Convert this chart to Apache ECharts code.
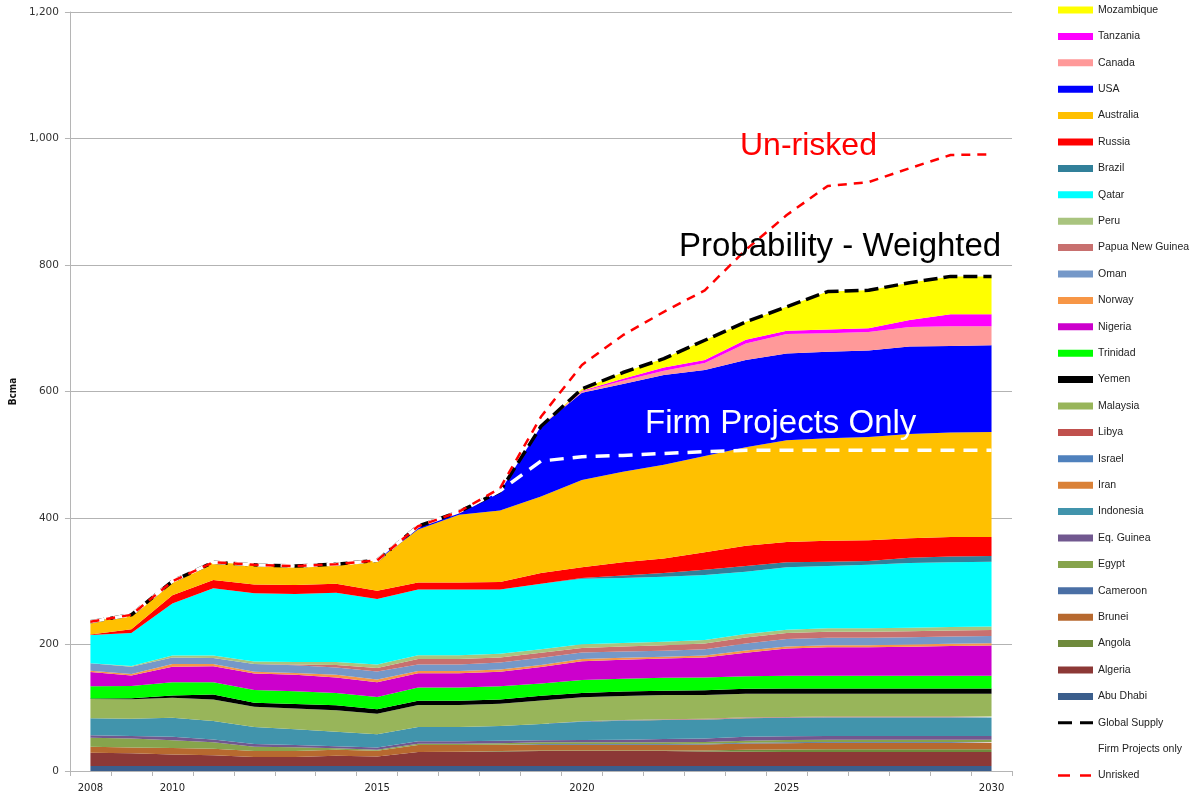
<!DOCTYPE html>
<html>
<head>
<meta charset="utf-8">
<title>LNG supply outlook</title>
<script src="https://cdn.jsdelivr.net/npm/echarts@6/dist/echarts.min.js"></script>
<style>
  html, body { margin: 0; padding: 0; background: #ffffff; }
  #chart { width: 1194px; height: 797px; }
</style>
</head>
<body>
<div id="chart"></div>
<script>
// Years on the category axis
const years = ['2008','2009','2010','2011','2012','2013','2014','2015','2016','2017','2018','2019',
               '2020','2021','2022','2023','2024','2025','2026','2027','2028','2029','2030'];

// Supply by country, Bcma (stacked bottom to top)
const abuDhabi   = [8,8,8,8,8,8,8,8,8,8,8,8,8,8,8,8,8,8,8,8,8,8,8];
const algeria    = [21,20,18,17,14,14,16,15,22,22,23,23.5,23.5,23.5,23.5,23,22.5,22,22,22,22,22,22];
const angola     = [0,0,0,0,0,0,0,0,0,0.5,0.5,1,1,1,1,1.5,3,4,4.5,4.5,4.5,4.5,4.5];
const brunei     = [9.5,9,10.5,10,9.5,9.5,9.5,9,11,10.5,10,9,9,9,9,9.5,10,10,10,10,10,10,10];
const cameroon   = [0,0,0,0,0,0,0,0,0,0,0,1,1,1,1,1,1,1.5,1.5,1.5,1.5,1.5,1.5];
const egypt      = [14,14.5,12,10.5,7,6,2.5,1.5,2,2,2.5,3,3,3,3,3,3.5,3.5,3.5,3.5,3.5,3.5,3.5];
const eqGuinea   = [4,4,5.5,4.5,4,3.5,3,3.5,4,4,4,3,3.5,4,5,5.5,6,6,6,6,6,6,6];
const indonesia  = [27,27,30,29,27,25,23,21,22.5,22.5,23,26,29,30,30,29.5,29.5,29,29,29,29,29,29];
const iran       = [0,0,0,0,0,0,0,0,0,0,0,0,0,0.5,0.5,0.5,0.5,0.5,0.5,0.5,0.5,0.5,0.5];
const israel     = [0,0,0,0,0,0,0,0,0,0,0,0,0.5,0.5,0.5,0.5,0.5,0.5,0.5,0.5,0.5,0.5,0.5];
const libya      = [0,0,0,0,0,0,0,0,0,0,0,0,0,0,0.5,0.5,0.5,0.5,0.5,0.5,0.5,0.5,0.5];
const malaysia   = [30.5,31,32,34,32,33,34,32.5,35,35,35.5,37,38,38,38,37.5,37,36.5,36,36,36,36,36];
const yemen      = [0.5,1.5,3.5,8,6.5,7,8,7,6.5,6.5,6.5,7.5,7,7,7,7.5,8,8.5,8.5,8.5,8.5,8.5,8.5];
const trinidad   = [19.5,19.5,21,19.5,20,20,19.5,19.5,21,21,21,19.5,20.5,20.5,20.5,20.5,20,20,20,20,20,20,20];
const nigeria    = [22.5,16.5,24.5,25,26,26,24.5,23.5,22.5,22.5,23,26,29.5,30,30.5,31.5,37,43,45,45,46,47,48];
const norway     = [2,2.5,4,3.5,3,3,4,4,3.5,3.5,3.5,3,3.5,3,2.5,3,3.5,3.5,3.5,3.5,3.5,3.5,3.5];
const oman       = [12,11.5,10.5,9.5,12,12,11.5,13,10.5,10.5,11,11.5,10.5,10,9.5,10,11,11.5,11.5,11.5,11.5,11.5,11.5];
const papuaNG    = [0,0,0,0,0,1.5,4,5.5,8.5,8.5,8,8,7,8,9,9,9.5,9.5,9.5,9.5,9.5,9.5,9.5];
const peru       = [0,1,3,4,4,4,5,5.5,6,6,6,5.5,6,5.5,5.5,5.5,5.5,5.5,5.5,5.5,5.5,5.5,5.5];
const qatar      = [44.5,52,82.5,106.5,108,107.5,109.5,103.5,104,104,101.5,103.5,103.5,102.5,102.5,103,98.5,98.5,98.5,100.5,102.5,102.5,102.5];
const brazil     = [0,0,0,0,0,0,0,0,0,0,0,0,1,4,6,8,9,8,7,6,8,9,9];
const russia     = [1,6,13,13,14,14,14,13,11,11,12,17,17,21,23,28,32,32,33,33,31,31,30];
const australia  = [20,23,22,28,31,30,31,48,84,107,113,121,138,143,148,152,156,161,162,163,165,165,166];
const usa        = [0,0,0,0,0,0,0,0,5,5,30,111,138,139,142,136,138,137,137,137,138,137,137];
const canada     = [0,0,0,0,0,0,0,0,0,0,0,0,2,5,7,11,26,31,29,29,31,31,30];
const tanzania   = [0,0,0,0,0,0,0,0,0,0,0,0,1,3,5,5,6,5,6,6,11,19,19];
const mozambique = [0,0,0,0,0,0,0,0,0,0,0,0,3,10,14,31,28,38,60,60,59,60,60];

// Outlook lines, Bcma
const globalSupply = [236,247,300,330,326,324,327,333,387,410,442,545,604,630,652,681,710,734,758,760,772,782,782];
const firmProjects = [236,247,300,330,326,324,327,333,387,410,443,490,497,499,502,505,507,507,507,507,507,507,507];
const unrisked     = [236,247,300,330,326,324,327,333,387,410,447,560,642,689,726,760,824,879,925,931,953,974,975];

// Y-axis tick values
const yTicks = [0, 200, 400, 600, 800, 1000, 1200];
// Years that carry a label on the x axis
const labelledYears = ['2008', '2010', '2015', '2020', '2025', '2030'];

// Stack layers, bottom to top, with their fill colours
const layers = [
  ['Abu Dhabi', abuDhabi, '#3b5e8c'],
  ['Algeria', algeria, '#8c3836'],
  ['Angola', angola, '#6f8a3c'],
  ['Brunei', brunei, '#b7692f'],
  ['Cameroon', cameroon, '#4a6fa5'],
  ['Egypt', egypt, '#86a44c'],
  ['Eq. Guinea', eqGuinea, '#71588f'],
  ['Indonesia', indonesia, '#4194ac'],
  ['Iran', iran, '#da8137'],
  ['Israel', israel, '#4f81bd'],
  ['Libya', libya, '#c0504d'],
  ['Malaysia', malaysia, '#98b55a'],
  ['Yemen', yemen, '#000000'],
  ['Trinidad', trinidad, '#00ff00'],
  ['Nigeria', nigeria, '#cc00cc'],
  ['Norway', norway, '#f79646'],
  ['Oman', oman, '#7598c8'],
  ['Papua New Guinea', papuaNG, '#c8706f'],
  ['Peru', peru, '#a9c47f'],
  ['Qatar', qatar, '#00ffff'],
  ['Brazil', brazil, '#31809a'],
  ['Russia', russia, '#ff0000'],
  ['Australia', australia, '#ffc000'],
  ['USA', usa, '#0000ff'],
  ['Canada', canada, '#ff9999'],
  ['Tanzania', tanzania, '#ff00ff'],
  ['Mozambique', mozambique, '#ffff00']
];

// Outlook lines: name, values, colour, width, dash pattern, legend swatch path
const lines = [
  ['Global Supply', globalSupply, '#000000', 3.5, [14, 6], 'path://M0,0h14v3h-14zM22,0h13v3h-13z'],
  ['Firm Projects only', firmProjects, '#ffffff', 3.5, [14, 9], 'path://M0,0h14v3h-14zM22,0h13v3h-13z'],
  ['Unrisked', unrisked, '#ff0000', 2.5, [9, 7], 'path://M0,0h12v2.5h-12zM22,0h11v2.5h-11zM33,0h2v0.01h-2z']
];

const series = [];
layers.forEach(([name, data, color]) => {
  series.push({
    name, type: 'line', stack: 'supply', data,
    symbol: 'none', smooth: false,
    lineStyle: { width: 0, color },
    itemStyle: { color },
    areaStyle: { color, opacity: 1 },
    emphasis: { disabled: true },
    z: 2
  });
});
lines.forEach(([name, data, color, width, dash], i) => {
  series.push({
    name, type: 'line', data,
    symbol: 'none',
    lineStyle: { color, width, type: dash },
    itemStyle: { color },
    emphasis: { disabled: true },
    z: 3 + i
  });
});

const legendData = layers.slice().reverse().map(([name]) => ({ name, icon: 'rect' }))
  .concat(lines.map(([name, , color, , , icon]) => ({ name, icon, itemStyle: { color } })));

const fmt = v => v.toLocaleString('en-US');

const chart = echarts.init(document.getElementById('chart'), null, { renderer: 'canvas' });
chart.setOption({
  animation: false,
  backgroundColor: '#ffffff',
  grid: { left: 68, right: 182, top: 12, bottom: 26, containLabel: false },
  legend: {
    orient: 'vertical',
    left: 1058, top: 3, height: 794,
    padding: 0,
    itemWidth: 35, itemHeight: 7,
    itemGap: 12.4,
    selectedMode: false,
    symbolKeepAspect: true,
    textStyle: { fontFamily: '"Liberation Sans", Arial, sans-serif', fontSize: 10.5, color: '#222', lineHeight: 14 },
    data: legendData
  },
  xAxis: {
    type: 'category',
    data: years,
    boundaryGap: true,
    axisLine: { lineStyle: { color: '#b5b5b5', width: 1 } },
    axisTick: { show: true, interval: 0, alignWithLabel: false, length: 5, lineStyle: { color: '#b5b5b5' } },
    axisLabel: {
      interval: (idx, val) => labelledYears.includes(val),
      margin: 12,
      fontFamily: '"DejaVu Sans", Verdana, sans-serif', fontSize: 10, color: '#222'
    },
    splitLine: { show: false }
  },
  yAxis: {
    type: 'value',
    min: yTicks[0], max: yTicks[yTicks.length - 1], interval: 200,
    name: 'Bcma', nameLocation: 'middle', nameGap: 45, nameRotate: 90,
    nameTextStyle: { fontFamily: '"Liberation Sans Narrow", "DejaVu Sans Condensed", sans-serif', fontWeight: 'bold', fontSize: 10, color: '#111' },
    axisLine: { show: true, lineStyle: { color: '#b5b5b5', width: 1 } },
    axisTick: { show: true, length: 5, lineStyle: { color: '#b5b5b5' } },
    axisLabel: { formatter: fmt, margin: 11, fontFamily: '"DejaVu Sans", Verdana, sans-serif', fontSize: 10.5, color: '#333' },
    splitLine: { show: true, lineStyle: { color: '#b3b3b3', width: 1 } }
  },
  graphic: [
    { type: 'text', x: 740, y: 146, z: 10,
      style: { text: 'Un-risked', fill: '#ff0000', font: '32px "Liberation Sans", Arial, sans-serif', textVerticalAlign: 'middle' } },
    { type: 'text', x: 679, y: 247, z: 10,
      style: { text: 'Probability - Weighted', fill: '#000000', font: '33px "Liberation Sans", Arial, sans-serif', textVerticalAlign: 'middle' } },
    { type: 'text', x: 645, y: 424, z: 10,
      style: { text: 'Firm Projects Only', fill: '#ffffff', font: '33px "Liberation Sans", Arial, sans-serif', textVerticalAlign: 'middle' } }
  ],
  series
});
</script>
</body>
</html>
